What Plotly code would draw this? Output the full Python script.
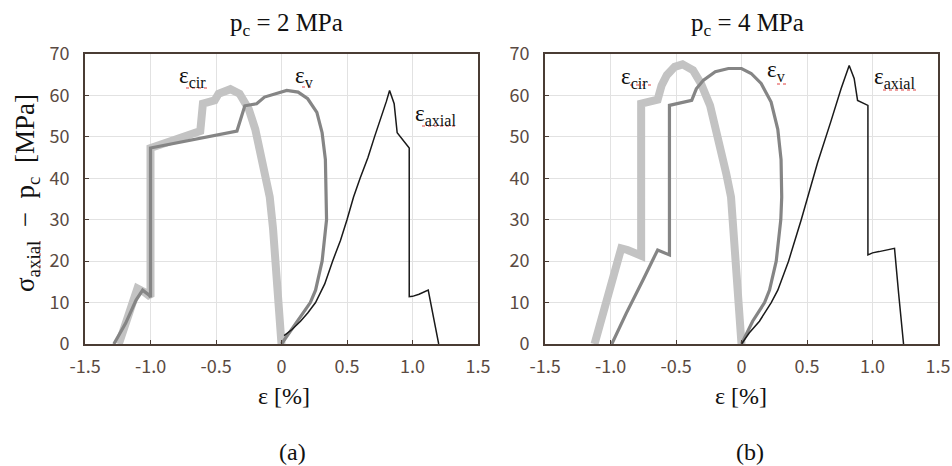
import plotly.graph_objects as go

# ---------------- data ----------------
# Panel (a): pc = 2 MPa
a_cir_x = [-1.242, -1.2, -1.15, -1.10, -1.05, -1.0, -1.0, -0.8, -0.62, -0.60, -0.51, -0.48, -0.43, -0.39,
           -0.32, -0.25, -0.20, -0.15, -0.12, -0.09, -0.065, -0.046, -0.02, 0.0]
a_cir_y = [0, 4, 8.5, 13.4, 12.6, 11.4, 47.3, 49.4, 51.4, 58, 58.8, 60.4, 61.2, 61.5,
           60.4, 56.7, 51.8, 45.3, 40.8, 35.5, 28, 20, 10, 0]

a_v_x = [-1.28, -1.19, -1.11, -1.06, -1.01, -1.0, -1.0, -0.34, -0.28, -0.19, -0.13, -0.05, 0.04, 0.127,
         0.2, 0.27, 0.31, 0.335, 0.344, 0.344, 0.31, 0.26, 0.22, 0.12, 0.05, 0.0]
a_v_y = [0, 5, 10.6, 13, 11.8, 11.3, 47.3, 51.4, 57.5, 58, 59.6, 60.4, 61.2, 60.8,
         59.2, 55.9, 51, 44.5, 35.5, 30, 20, 13, 10, 5.5, 2.5, 0]

a_ax_x = [0.02, 0.08, 0.145, 0.2, 0.26, 0.33, 0.39, 0.45, 0.5, 0.55, 0.6, 0.66, 0.71, 0.76, 0.8, 0.825,
          0.86, 0.883, 0.975, 0.975, 1.0, 1.05, 1.1, 1.12, 1.16, 1.2]
a_ax_y = [2, 3.5, 5.5, 7.5, 10, 14.5, 20, 25, 30, 35.5, 40, 45, 50, 54.5, 58.5, 61.2,
          58, 51, 47.3, 11.4, 11.5, 12, 12.8, 13, 6.5, 0]

# Panel (b): pc = 4 MPa
b_cir_x = [-1.122, -1.06, -1.0, -0.96, -0.918, -0.87, -0.83, -0.766, -0.766, -0.64, -0.61, -0.57, -0.51,
           -0.45, -0.37, -0.31, -0.24, -0.18, -0.117, -0.08, -0.06, -0.04, -0.015, 0.0]
b_cir_y = [0, 7, 13, 17.5, 23.1, 22.7, 22.3, 21.3, 58, 59, 62.4, 64.9, 66.9,
           67.5, 66.1, 62.9, 57.6, 50.2, 41.2, 35.5, 28, 20, 10, 0]

b_v_x = [-0.99, -0.88, -0.753, -0.64, -0.55, -0.55, -0.38, -0.345, -0.29, -0.2, -0.1, 0.0, 0.074, 0.15,
         0.226, 0.277, 0.302, 0.307, 0.3, 0.265, 0.214, 0.176, 0.085, 0.01, 0.0]
b_v_y = [0, 7.4, 15.4, 22.7, 21.5, 57.6, 58.8, 61.6, 63.7, 65.7, 66.5, 66.5, 65.3, 62.9,
         58.4, 51.8, 44.5, 35.5, 30, 20, 13, 10, 5.5, 1, 0]

b_ax_x = [0.0, 0.06, 0.137, 0.227, 0.277, 0.359, 0.456, 0.5, 0.58, 0.68, 0.76, 0.822, 0.86, 0.886,
          0.965, 0.965, 1.0, 1.05, 1.1, 1.168, 1.2, 1.237]
b_ax_y = [0, 2.7, 5.5, 10, 13, 20, 30, 35, 43.7, 53.5, 61.6, 67.2, 64.1, 58.8,
          57.6, 21.5, 22, 22.3, 22.6, 23.1, 12, 0]

x_tickvals = [-1.5, -1.0, -0.5, 0, 0.5, 1.0, 1.5]
x_ticktext = ["-1.5", "-1.0", "-0.5", "0", "0.5", "1.0", "1.5"]
y_tickvals = [0, 10, 20, 30, 40, 50, 60, 70]

panel_titles = ["p<sub>c</sub> = 2 MPa", "p<sub>c</sub> = 4 MPa"]
panel_letters = ["(a)", "(b)"]
curve_labels = ["ε<sub>cir</sub>", "ε<sub>v</sub>", "ε<sub>axial</sub>"]
a_label_x = [-0.68, 0.172, 1.175]
a_label_y = [64.5, 64.5, 55.2]
b_label_x = [-0.817, 0.27, 1.168]
b_label_y = [64.2, 65.8, 64.2]

# ---------------- styling ----------------
C_CIR = "#c3c3c3"
C_V = "#858585"
C_AX = "#1a1a1a"
FRAME = "#4a3c34"
TICKC = "#5a4a42"
SERIF = "Liberation Serif"
SANS = "Noto Sans CJK JP"
NB = "\u00a0"

fig = go.Figure()

panels = [
    ("x", "y", a_cir_x, a_cir_y, a_v_x, a_v_y, a_ax_x, a_ax_y),
    ("x2", "y2", b_cir_x, b_cir_y, b_v_x, b_v_y, b_ax_x, b_ax_y),
]
for xa, ya, cx, cy, vx, vy, ax_, ay_ in panels:
    fig.add_trace(go.Scatter(x=cx, y=cy, mode="lines", xaxis=xa, yaxis=ya,
                             line=dict(color=C_CIR, width=8), showlegend=False, hoverinfo="skip"))
    fig.add_trace(go.Scatter(x=vx, y=vy, mode="lines", xaxis=xa, yaxis=ya,
                             line=dict(color=C_V, width=3.2), showlegend=False, hoverinfo="skip"))
    fig.add_trace(go.Scatter(x=ax_, y=ay_, mode="lines", xaxis=xa, yaxis=ya,
                             line=dict(color=C_AX, width=1.5), showlegend=False, hoverinfo="skip"))

W, H = 952, 466
ydom = [(H - 344) / H, (H - 54) / H]
xdom_a = [85 / W, 478 / W]
xdom_b = [545 / W, 938 / W]

common_x = dict(range=[-1.5, 1.5], tickmode="array", tickvals=x_tickvals, ticktext=x_ticktext,
                showgrid=True, gridcolor="#e2e2e2", gridwidth=1, zeroline=False,
                showline=True, linecolor=FRAME, linewidth=2, mirror=True, automargin=False,
                ticks="inside", ticklen=4, tickcolor=FRAME, tickwidth=1,
                tickfont=dict(family=SANS, size=18, color=TICKC), ticklabelstandoff=5)
common_y = dict(range=[0, 70], tickmode="array", tickvals=y_tickvals,
                showgrid=True, gridcolor="#e2e2e2", gridwidth=1, zeroline=False,
                showline=True, linecolor=FRAME, linewidth=2, mirror=True, automargin=False,
                ticks="inside", ticklen=4, tickcolor=FRAME, tickwidth=1,
                tickfont=dict(family=SANS, size=18, color=TICKC), ticklabelstandoff=10)


def px2paper(px, py):
    return px / W, 1 - py / H


# red spell-check underlines under the subscripts, as in the reference (pixel layout positions)
underlines = [(186, 208, 88), (302, 313, 87), (422, 458, 126),
              (630, 651, 85), (777, 788, 84), (883, 918, 90)]
shapes = []
for x0p, x1p, yp in underlines:
    x0, y0 = px2paper(x0p, yp)
    x1, _ = px2paper(x1p, yp)
    shapes.append(dict(type="line", xref="paper", yref="paper", x0=x0, x1=x1, y0=y0, y1=y0,
                       line=dict(color="#e04040", width=1, dash="dot")))
ux, uy0 = px2paper(40, 274)
_, uy1 = px2paper(40, 240)
shapes.append(dict(type="line", xref="paper", yref="paper", x0=ux, x1=ux, y0=uy0, y1=uy1,
                   line=dict(color="#e04040", width=1, dash="dot")))

fig.update_layout(
    width=W, height=H, autosize=False,
    margin=dict(l=0, r=0, t=0, b=0, pad=0, autoexpand=False),
    paper_bgcolor="white", plot_bgcolor="white",
    font=dict(family=SERIF),
    xaxis=dict(domain=xdom_a, anchor="y", **common_x),
    yaxis=dict(domain=ydom, anchor="x", **common_y),
    xaxis2=dict(domain=xdom_b, anchor="y2", **common_x),
    yaxis2=dict(domain=ydom, anchor="x2", **common_y),
    shapes=shapes,
)

ann = []
for cx, t in zip([286 / W, 747 / W], panel_titles):
    ann.append(dict(x=cx, y=1 - 25 / H, xref="paper", yref="paper", text=t, showarrow=False,
                    xanchor="center", yanchor="middle", font=dict(family=SERIF, size=25, color="#111")))
for cx in [284 / W, 741 / W]:
    ann.append(dict(x=cx, y=1 - 396 / H, xref="paper", yref="paper", text="ε [%]", showarrow=False,
                    xanchor="center", yanchor="middle", font=dict(family=SERIF, size=24, color="#111")))
for cx, t in zip([292 / W, 750 / W], panel_letters):
    ann.append(dict(x=cx, y=1 - 452 / H, xref="paper", yref="paper", text=t, showarrow=False,
                    xanchor="center", yanchor="middle", font=dict(family=SERIF, size=24, color="#111")))
ann.append(dict(x=27 / W, y=1 - 193 / H, xref="paper", yref="paper",
                text="σ<sub>axial</sub>" + NB * 2 + "−" + NB * 2 + "p<sub>c</sub>" + NB * 2 + "[MPa]",
                textangle=-90, showarrow=False,
                xanchor="center", yanchor="middle", font=dict(family=SERIF, size=27, color="#111")))
for lx, ly, t in zip(a_label_x, a_label_y, curve_labels):
    ann.append(dict(x=lx, y=ly, xref="x", yref="y", text=t, showarrow=False,
                    xanchor="center", yanchor="middle", font=dict(family=SERIF, size=23, color="#111")))
for lx, ly, t in zip(b_label_x, b_label_y, curve_labels):
    ann.append(dict(x=lx, y=ly, xref="x2", yref="y2", text=t, showarrow=False,
                    xanchor="center", yanchor="middle", font=dict(family=SERIF, size=23, color="#111")))

fig.update_layout(annotations=ann)

fig.write_html("out.html", config={"displayModeBar": False},
               post_script="document.body.style.margin='0';")
